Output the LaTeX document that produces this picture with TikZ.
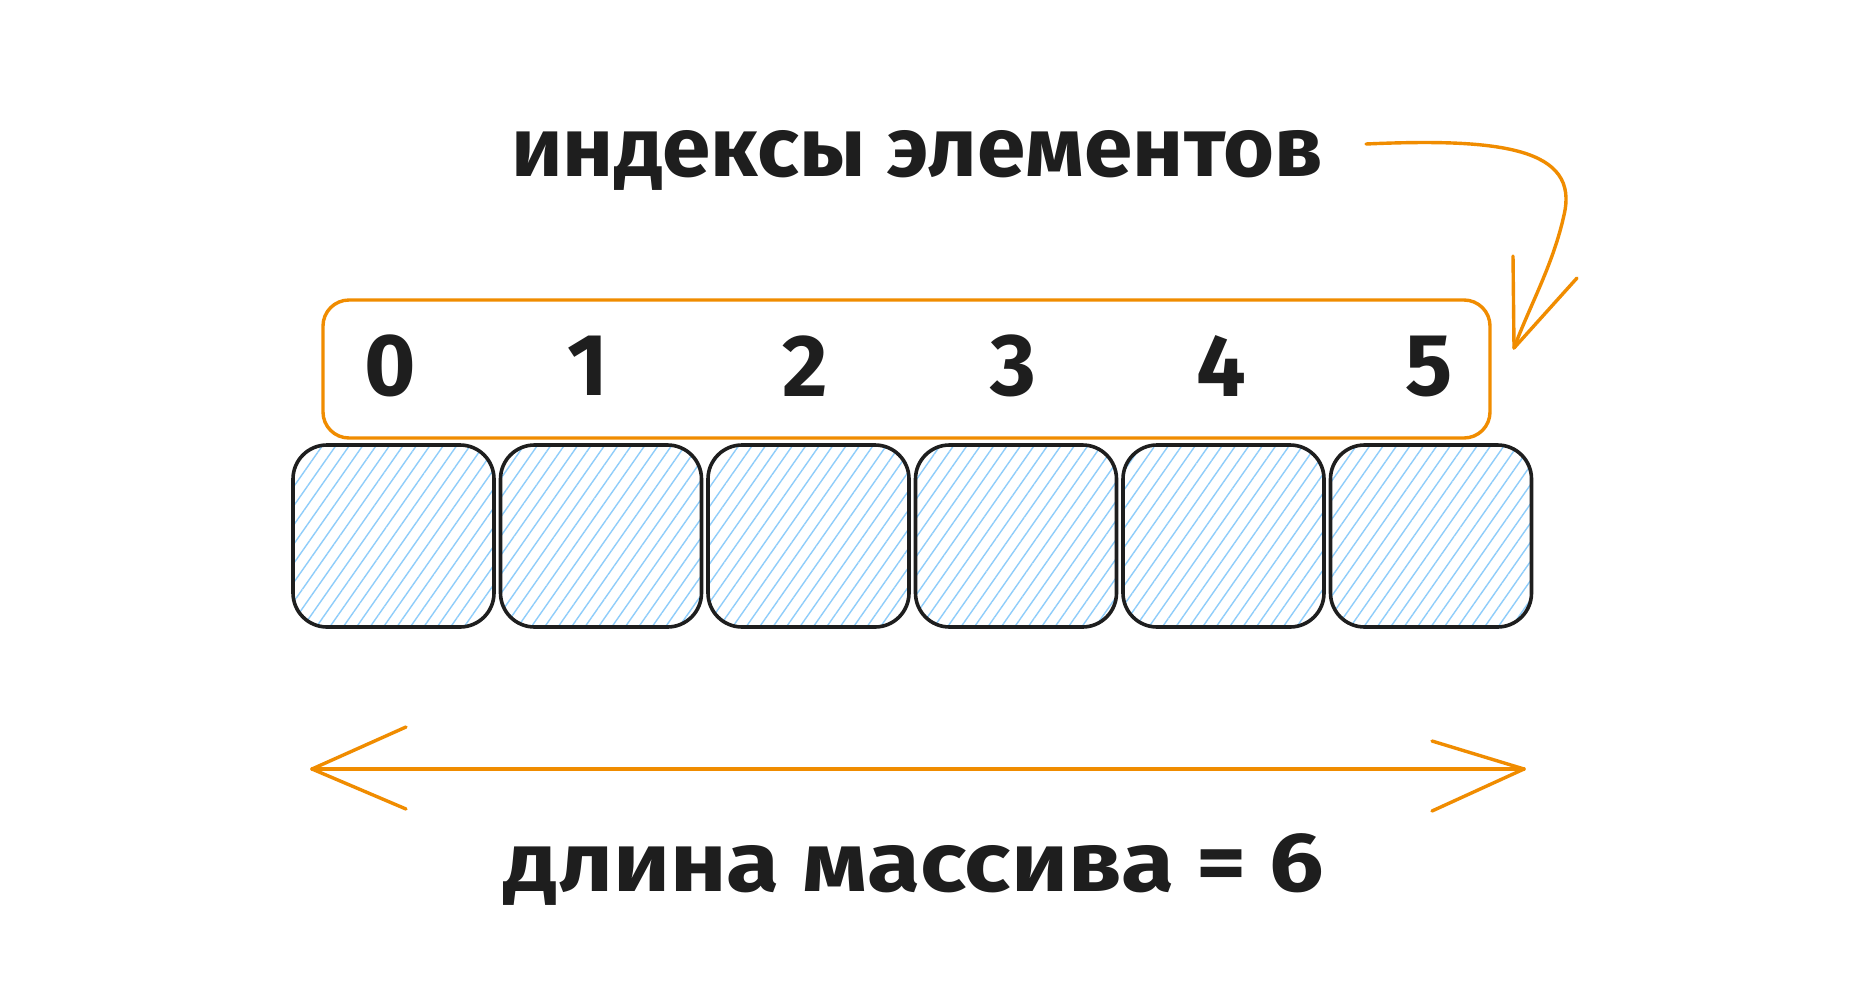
\documentclass[tikz,border=0pt]{standalone}
\usepackage{fontspec}
\setmainfont{Fira Sans}
\usetikzlibrary{patterns.meta}
\definecolor{ink}{HTML}{1E1E1E}
\definecolor{orng}{HTML}{F08C00}
\definecolor{hatch}{HTML}{8FCDFA}
\begin{document}
\begin{tikzpicture}[x=1pt,y=-1pt,
  cell/.style={draw=ink, line width=3.6pt, rounded corners=34pt,
    minimum width=201pt, minimum height=182pt, inner sep=0pt,
    pattern={Lines[angle=55,distance=11pt,line width=1.4pt]}, pattern color=hatch},
  frame/.style={draw=orng, line width=3.4pt, rounded corners=26pt,
    minimum width=1167pt, minimum height=138pt, inner sep=0pt},
  digit/.style={text=ink, font=\fontsize{88}{90}\selectfont\bfseries, inner sep=0pt},
  label/.style={text=ink, font=\fontsize{84}{90}\selectfont\bfseries, inner sep=0pt, anchor=base},
  conn/.style={draw=orng, line width=3.4pt, line cap=round, line join=round}]
\useasboundingbox (0,0) rectangle (1863,1002);
\fill[white] (0,0) rectangle (1863,1002);

% index frame
\node[frame] (idx) at (906.5,369) {};

% cells
\foreach \i in {0,...,5}{
  \node[cell] (b\i) at ({393.5+207.5*\i},536) {};
}

% digits
\node[digit] (d0) at (390,366) {0};
\node[digit] (d1) at (588,366) {1};
\node[digit] (d2) at (805,366) {2};
\node[digit] (d3) at (1013,366) {3};
\node[digit] (d4) at (1221,366) {4};
\node[digit] (d5) at (1429,366) {5};

% labels
\node[label] (top) at (917,176) {\scalebox{1.04}[1]{индексы элементов}};
\node[label] (bot) at (914,891) {\scalebox{1.15}[1]{длина массива = 6}};

% curved arrow from top label to index frame
\coordinate (as) at (1366,144);
\coordinate (at) at (1514,348);
\coordinate (ab1) at (1513,256);
\coordinate (ab2) at (1577,278);
\draw[conn] (as) .. controls (1500,138) and (1580,148) .. (1564,215)
  .. controls (1553,265) and (1530,305) .. (at);
\draw[conn] (ab1) -- (at) -- (ab2);

% double arrow for length
\coordinate (la) at (312,769);
\coordinate (ra) at (1524,769);
\coordinate (l1) at (406,727);
\coordinate (l2) at (406,809);
\coordinate (r1) at (1432,741);
\coordinate (r2) at (1432,811);
\draw[conn] (la) -- (ra);
\draw[conn] (l1) -- (la) -- (l2);
\draw[conn] (r1) -- (ra) -- (r2);
\end{tikzpicture}
\end{document}
